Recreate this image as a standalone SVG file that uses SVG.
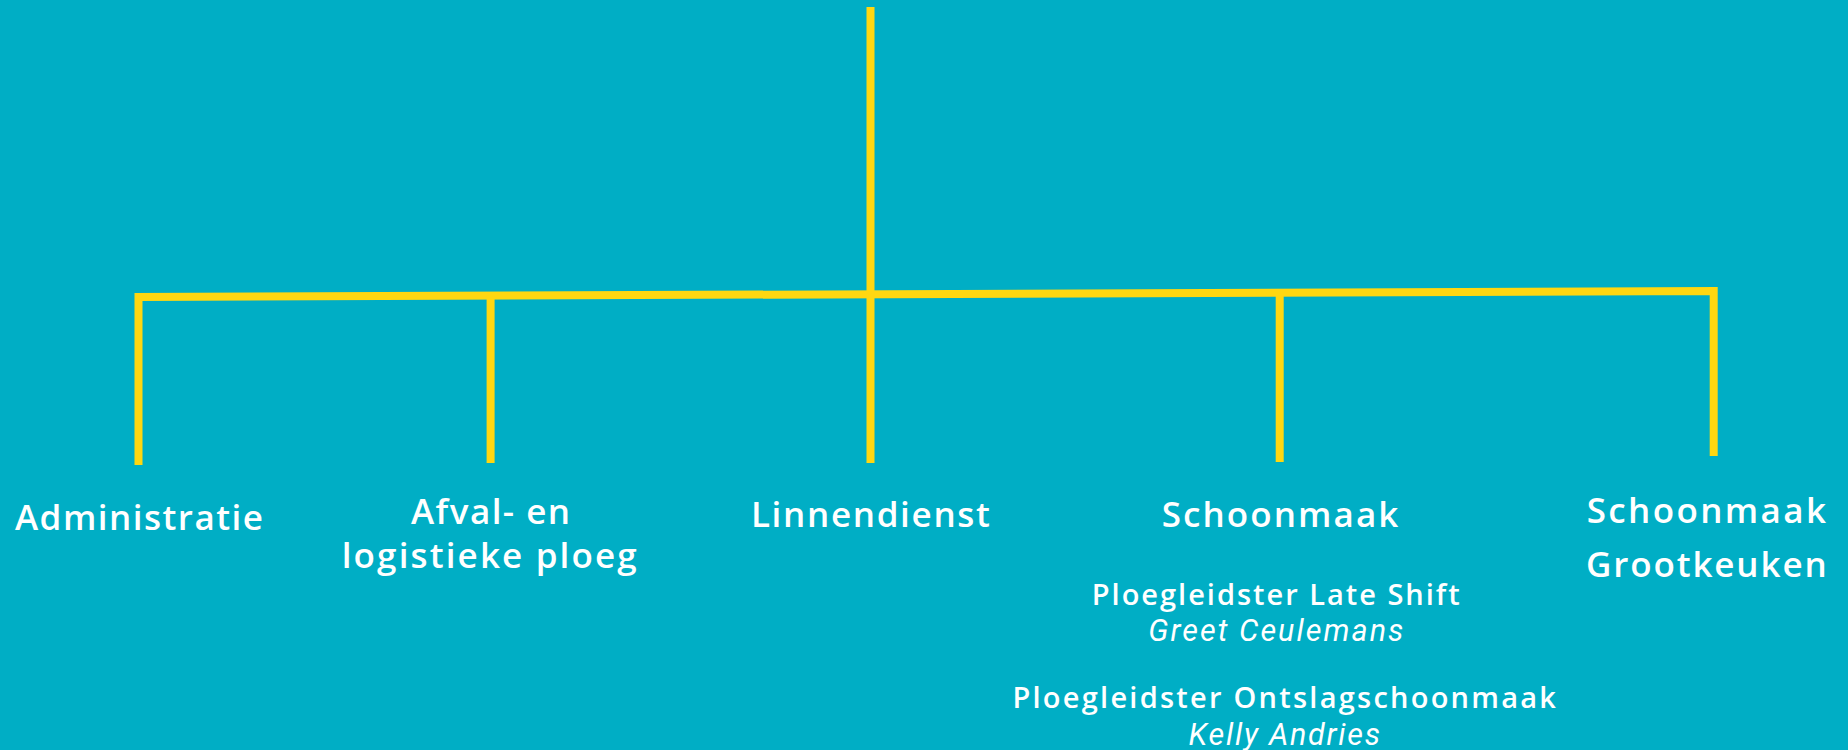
<svg xmlns="http://www.w3.org/2000/svg" width="1848" height="750" viewBox="0 0 1848 750">
<style>
.bg{fill:#00AEC5}
.ln{fill:none;stroke:#FFD711;stroke-width:8;stroke-linejoin:miter;stroke-linecap:butt}
.h{font-family:"Open Sans",Inter,"Liberation Sans",sans-serif;font-weight:600;font-size:35px;fill:#fff;text-anchor:middle}
.s{font-family:"Open Sans",Inter,"Liberation Sans",sans-serif;font-weight:600;font-size:29px;fill:#fff;text-anchor:middle}
.i{font-family:Roboto,"Open Sans","Liberation Sans",sans-serif;font-style:italic;font-weight:400;font-size:30.5px;fill:#fff;text-anchor:middle}
</style>
<rect class="bg" x="0" y="0" width="1848" height="750"/>
<g id="connectors">
<path class="ln" d="M138.5,465 V297 L1713.7,291 V456"/>
<path class="ln" d="M870.5,7 V463"/>
<path class="ln" d="M490.6,295.7 V463"/>
<path class="ln" d="M1279.7,292.6 V462"/>
</g>
<g id="node-administratie">
<text class="h" x="139" y="530" textLength="248" lengthAdjust="spacing">Administratie</text>
</g>
<g id="node-afval">
<text class="h" x="490.5" y="524" textLength="159" lengthAdjust="spacing">Afval- en</text>
<text class="h" x="489.2" y="568" textLength="295" lengthAdjust="spacing">logistieke ploeg</text>
</g>
<g id="node-linnendienst">
<text class="h" x="870.4" y="526.7" textLength="239" lengthAdjust="spacing">Linnendienst</text>
</g>
<g id="node-schoonmaak">
<text class="h" x="1280" y="526.7" textLength="236.7" lengthAdjust="spacing">Schoonmaak</text>
<text class="s" x="1275.8" y="605" textLength="368" lengthAdjust="spacing">Ploegleidster Late Shift</text>
<text class="i" x="1275.8" y="640.7" textLength="255" lengthAdjust="spacing">Greet Ceulemans</text>
<text class="s" x="1284.2" y="708.3" textLength="543.5" lengthAdjust="spacing">Ploegleidster Ontslagschoonmaak</text>
<text class="i" x="1284.3" y="745" textLength="191.4" lengthAdjust="spacing">Kelly Andries</text>
</g>
<g id="node-grootkeuken">
<text class="h" x="1706.3" y="523.3" textLength="239.3" lengthAdjust="spacing">Schoonmaak</text>
<text class="h" x="1706.3" y="576.7" textLength="240.7" lengthAdjust="spacing">Grootkeuken</text>
</g>
</svg>
